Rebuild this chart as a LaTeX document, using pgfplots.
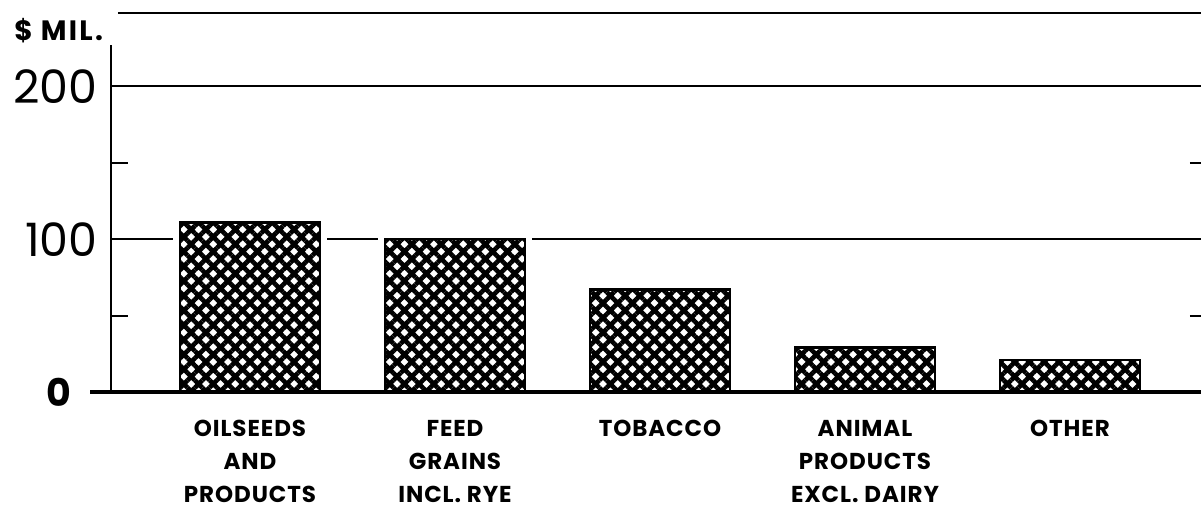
\documentclass[border=0pt]{standalone}
\usepackage{fontspec}
\setmainfont{Poppins}
\newfontfamily\labfont[LetterSpace=4.0]{Poppins}
\newfontfamily\milfont[LetterSpace=8.0]{Poppins}
\usepackage{pgfplots}
\pgfplotsset{compat=1.18}
\usetikzlibrary{patterns.meta}
\begin{document}
\begin{tikzpicture}
\path[use as bounding box] (0,0) rectangle (600.5pt,254.5pt);
\begin{axis}[
  at={(55.5pt,58.5pt)}, anchor=south west,
  scale only axis, width=545pt, height=189.5pt,
  xmin=-0.678, xmax=4.639, ymin=0, ymax=248,
  clip=false,
  axis line style={draw=none},
  major tick length=0pt,
  ytick={0,100,200},
  yticklabels={{\bfseries\fontsize{19}{19}\selectfont 0\hspace*{13pt}},100,200},
  yticklabel style={font=\fontsize{23}{23}\selectfont, inner sep=0pt, anchor=east, xshift=-6.5pt},
  ymajorgrids, grid style={black, line width=1pt},
  xtick={0,1,2,3,4},
  xticklabels={OILSEEDS\\AND\\PRODUCTS, FEED\\GRAINS\\INCL. RYE, TOBACCO, ANIMAL\\PRODUCTS\\EXCL. DAIRY, OTHER},
  xticklabel style={align=center, font=\labfont\bfseries\fontsize{11.5}{16.5}\selectfont, anchor=north, inner sep=0pt, yshift=-14pt},
]
\addplot[ybar, bar width=70pt, fill=white, draw=white, line width=7pt] coordinates {(0,111) (1,100) (2,67) (3,29) (4,21)};
\addplot[ybar, bar width=70pt, draw=black, line width=1.2pt, pattern={Hatch[angle=45,distance=5.2pt,line width=2.3pt]}] coordinates {(0,111) (1,100) (2,67) (3,29) (4,21)};
\draw[line width=1.6pt] (axis cs:-0.780,0) -- (axis cs:4.639,0);
\draw[line width=1pt] (axis cs:-0.678,0) -- (axis cs:-0.678,226.8);
\draw[line width=1pt] (axis cs:-0.644,248) -- (axis cs:4.639,248);
\draw[line width=1pt] (axis cs:-0.678,50) -- (axis cs:-0.595,50);
\draw[line width=1pt] (axis cs:-0.678,150) -- (axis cs:-0.595,150);
\draw[line width=1pt] (axis cs:4.585,50) -- (axis cs:4.639,50);
\draw[line width=1pt] (axis cs:4.585,150) -- (axis cs:4.639,150);
\end{axis}
\node[anchor=west, inner sep=0pt, font=\milfont\bfseries\fontsize{14}{14}\selectfont] at (7pt,239pt) {\$ MIL.};
\end{tikzpicture}
\end{document}
